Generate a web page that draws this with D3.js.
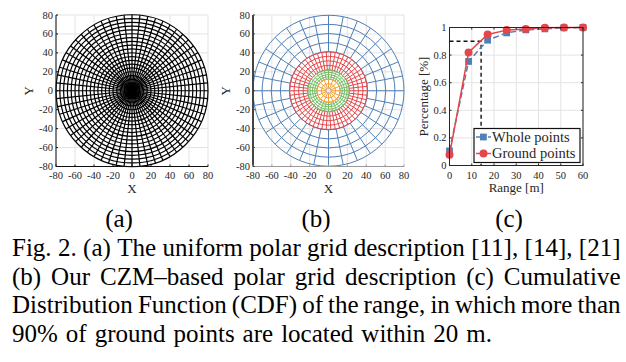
<!DOCTYPE html>
<html>
<head>
<meta charset="utf-8">
<script src="https://cdn.jsdelivr.net/npm/d3@7"></script>
<style>
  body { margin: 0; background: #fff; }
  svg { display: block; }
  text { font-family: "Liberation Serif", "Times New Roman", Tinos, "DejaVu Serif", serif; }
  .tick-label { font-size: 10.5px; fill: #262626; }
  .axis-title { font-size: 13px; fill: #262626; }
  .caption { font-size: 25px; fill: #000; }
</style>
</head>
<body>
<script>
// ---- data ----
const polarTicks = [-80, -60, -40, -20, 0, 20, 40, 60, 80];
const maxRange = 80;

// (a) uniform polar grid
const uniformRings = 20;
const uniformSectors = 60;

// (b) concentric zone model
const czmZoneBounds = [2.7, 12.3625, 22.025, 41.35, 80];
const czmRings = [2, 4, 4, 4];
const czmSectors = [16, 32, 54, 32];
const czmColors = ['#f7a035', '#74bd66', '#e3474b', '#4f80b6'];

// (c) CDF of the range
const rangeX = [0, 8.57, 17.14, 25.71, 34.29, 42.86, 51.43, 60];
const wholePts = [0.106, 0.754, 0.908, 0.961, 0.983, 0.99, 0.998, 1.0];
const groundPts = [0.077, 0.819, 0.949, 0.981, 0.99, 0.998, 1.0, 1.0];
const cdfXTicks = [0, 10, 20, 30, 40, 50, 60];
const cdfYTicks = [0, 0.2, 0.4, 0.6, 0.8, 1];
const cdfYTickLabels = ['0', '0.2', '0.4', '0.6', '0.8', '1'];
const threshold = { range: 14.2, pct: 0.9 };
const seriesNames = ['Whole points', 'Ground points'];

const subLabels = ['(a)', '(b)', '(c)'];
const captionLines = [
    'Fig. 2. (a) The uniform polar grid description [11], [14], [21]',
    '(b) Our CZM\u2013based polar grid description (c) Cumulative',
    'Distribution Function (CDF) of the range, in which more than',
    '90% of ground points are located within 20 m.'
];

// ---- layout ----
const W = 626, H = 362;
const svg = d3.select('body').append('svg')
    .attr('width', W)
    .attr('height', H);
svg.append('rect').attr('width', W).attr('height', H).attr('fill', '#fff');

const gridColor = '#e3e3e3';

function polarAxes(x0, x1) {
    let x = d3.scaleLinear().domain([-maxRange, maxRange]).range([x0, x1]);
    let y = d3.scaleLinear().domain([-maxRange, maxRange]).range([166.5, 15]);
    let g = svg.append('g');

    // grid
    g.selectAll('.gx').data(polarTicks).enter().append('line')
        .attr('x1', d => x(d)).attr('x2', d => x(d))
        .attr('y1', y(-maxRange)).attr('y2', y(maxRange))
        .attr('stroke', gridColor).attr('stroke-width', 1);
    g.selectAll('.gy').data(polarTicks).enter().append('line')
        .attr('y1', d => y(d)).attr('y2', d => y(d))
        .attr('x1', x(-maxRange)).attr('x2', x(maxRange))
        .attr('stroke', gridColor).attr('stroke-width', 1);

    // tick labels
    g.selectAll('.tx').data(polarTicks).enter().append('text')
        .attr('class', 'tick-label')
        .attr('x', d => x(d)).attr('y', 179)
        .attr('text-anchor', 'middle')
        .text(d => d);
    g.selectAll('.ty').data(polarTicks).enter().append('text')
        .attr('class', 'tick-label')
        .attr('x', x(-maxRange) - 3).attr('y', d => y(d) + 3.5)
        .attr('text-anchor', 'end')
        .text(d => d);

    g.append('text').attr('class', 'axis-title')
        .attr('x', (x0 + x1) / 2).attr('y', 193)
        .attr('text-anchor', 'middle').text('X');
    g.append('text').attr('class', 'axis-title')
        .attr('transform', 'translate(' + (x0 - 23) + ',' + y(0) + ') rotate(-90)')
        .attr('text-anchor', 'middle').text('Y');

    return { x: x, y: y, g: g };
}

function drawPolarGrid(ax, r0, r1, rings, sectors, color, width) {
    let rpx = d3.scaleLinear().domain([0, maxRange]).range([0, ax.x(maxRange) - ax.x(0)]);
    let cx = ax.x(0), cy = ax.y(0);
    let radii = d3.range(rings + 1).map(i => r0 + (r1 - r0) * i / rings);
    let angles = d3.range(sectors).map(k => 2 * Math.PI * k / sectors);

    ax.g.append('g').selectAll('circle').data(radii.filter(r => r > 0)).enter().append('circle')
        .attr('cx', cx).attr('cy', cy)
        .attr('r', d => rpx(d))
        .attr('fill', 'none').attr('stroke', color).attr('stroke-width', width);
    ax.g.append('g').selectAll('line').data(angles).enter().append('line')
        .attr('x1', d => cx + rpx(r0) * Math.cos(d)).attr('y1', d => cy - rpx(r0) * Math.sin(d))
        .attr('x2', d => cx + rpx(r1) * Math.cos(d)).attr('y2', d => cy - rpx(r1) * Math.sin(d))
        .attr('stroke', color).attr('stroke-width', width);
}

function polarFrame(ax, leftColor, bottomColor, leftWidth) {
    let x = ax.x, y = ax.y;
    ax.g.append('line')
        .attr('x1', x(-maxRange)).attr('x2', x(-maxRange))
        .attr('y1', y(-maxRange)).attr('y2', y(maxRange))
        .attr('stroke', leftColor).attr('stroke-width', leftWidth);
    ax.g.append('line')
        .attr('x1', x(-maxRange)).attr('x2', x(maxRange))
        .attr('y1', y(-maxRange)).attr('y2', y(-maxRange))
        .attr('stroke', bottomColor).attr('stroke-width', 1);
    // inward ticks
    ax.g.selectAll('.tk').data(polarTicks).enter().append('line')
        .attr('x1', d => x(d)).attr('x2', d => x(d))
        .attr('y1', y(-maxRange)).attr('y2', y(-maxRange) - 2)
        .attr('stroke', bottomColor);
    ax.g.selectAll('.tk2').data(polarTicks).enter().append('line')
        .attr('y1', d => y(d)).attr('y2', d => y(d))
        .attr('x1', x(-maxRange)).attr('x2', x(-maxRange) + 2)
        .attr('stroke', leftColor);
}

// (a)
let axA = polarAxes(56, 208);
drawPolarGrid(axA, 0, maxRange, uniformRings, uniformSectors, '#000', 1.2);
polarFrame(axA, '#111', '#111', 1);

// (b) outer zones first so inner boundaries sit on top
let axB = polarAxes(253, 404);
for (let z = czmZoneBounds.length - 2; z >= 0; z--) {
    drawPolarGrid(axB, czmZoneBounds[z], czmZoneBounds[z + 1], czmRings[z], czmSectors[z], czmColors[z], 1);
}
axB.g.append('circle')
    .attr('cx', axB.x(0)).attr('cy', axB.y(0))
    .attr('r', axB.x(czmZoneBounds[0]) - axB.x(0))
    .attr('fill', 'none').attr('stroke', '#bbb').attr('stroke-width', 1);
polarFrame(axB, '#444', '#999', 2);

// (c) CDF
let cx = d3.scaleLinear().domain([0, 60]).range([449.5, 583]);
let cy = d3.scaleLinear().domain([0, 1]).range([165.5, 27.5]);
let gc = svg.append('g');

gc.selectAll('.gx').data(cdfXTicks).enter().append('line')
    .attr('x1', d => cx(d)).attr('x2', d => cx(d))
    .attr('y1', cy(0)).attr('y2', cy(1))
    .attr('stroke', gridColor);
gc.selectAll('.gy').data(cdfYTicks).enter().append('line')
    .attr('y1', d => cy(d)).attr('y2', d => cy(d))
    .attr('x1', cx(0)).attr('x2', cx(60))
    .attr('stroke', gridColor);

// 90% threshold guide
gc.append('path')
    .attr('d', d3.line()([[cx(0), cy(threshold.pct)], [cx(threshold.range), cy(threshold.pct)], [cx(threshold.range), cy(0)]]))
    .attr('fill', 'none').attr('stroke', '#111').attr('stroke-width', 1.4)
    .attr('stroke-dasharray', '4,3');

let cdfLine = d3.line()
    .x((d, i) => cx(rangeX[i]))
    .y(d => cy(d));

gc.append('path').datum(wholePts)
    .attr('d', cdfLine)
    .attr('fill', 'none').attr('stroke', '#4f80b6').attr('stroke-width', 1.5)
    .attr('stroke-dasharray', '6,3');
gc.selectAll('.sq').data(wholePts).enter().append('rect')
    .attr('x', (d, i) => cx(rangeX[i]) - 3.4).attr('y', d => cy(d) - 3.4)
    .attr('width', 6.8).attr('height', 6.8)
    .attr('fill', '#4f80b6');

gc.append('path').datum(groundPts)
    .attr('d', cdfLine)
    .attr('fill', 'none').attr('stroke', '#e3474b').attr('stroke-width', 1.5);
gc.selectAll('.ci').data(groundPts).enter().append('circle')
    .attr('cx', (d, i) => cx(rangeX[i])).attr('cy', d => cy(d))
    .attr('r', 4)
    .attr('fill', '#e3474b');

// frame and inward ticks
gc.append('rect')
    .attr('x', cx(0)).attr('y', cy(1))
    .attr('width', cx(60) - cx(0)).attr('height', cy(0) - cy(1))
    .attr('fill', 'none').attr('stroke', '#262626').attr('stroke-width', 1);
cdfXTicks.forEach(function (t) {
    gc.append('line').attr('x1', cx(t)).attr('x2', cx(t)).attr('y1', cy(0)).attr('y2', cy(0) - 2).attr('stroke', '#262626');
    gc.append('line').attr('x1', cx(t)).attr('x2', cx(t)).attr('y1', cy(1)).attr('y2', cy(1) + 2).attr('stroke', '#262626');
});
cdfYTicks.forEach(function (t) {
    gc.append('line').attr('y1', cy(t)).attr('y2', cy(t)).attr('x1', cx(0)).attr('x2', cx(0) + 2).attr('stroke', '#262626');
    gc.append('line').attr('y1', cy(t)).attr('y2', cy(t)).attr('x1', cx(60)).attr('x2', cx(60) - 2).attr('stroke', '#262626');
});

gc.selectAll('.tx').data(cdfXTicks).enter().append('text')
    .attr('class', 'tick-label')
    .attr('x', d => cx(d)).attr('y', 178.5)
    .attr('text-anchor', 'middle').text(d => d);
gc.selectAll('.ty').data(cdfYTicks).enter().append('text')
    .attr('class', 'tick-label')
    .attr('x', cx(0) - 3).attr('y', d => cy(d) + 3.5)
    .attr('text-anchor', 'end').text((d, i) => cdfYTickLabels[i]);

gc.append('text').attr('class', 'axis-title')
    .attr('x', (cx(0) + cx(60)) / 2).attr('y', 192)
    .attr('text-anchor', 'middle').text('Range [m]');
gc.append('text').attr('class', 'axis-title')
    .attr('transform', 'translate(428,' + cy(0.5) + ') rotate(-90)')
    .attr('text-anchor', 'middle').text('Percentage [%]');

// legend
let lg = gc.append('g').attr('transform', 'translate(474,128.5)');
lg.append('rect').attr('width', 106).attr('height', 34)
    .attr('fill', '#fff').attr('stroke', '#111').attr('stroke-width', 1.2);
lg.append('line').attr('x1', 2).attr('x2', 17).attr('y1', 8.5).attr('y2', 8.5)
    .attr('stroke', '#4f80b6').attr('stroke-width', 1.5).attr('stroke-dasharray', '4,2');
lg.append('rect').attr('x', 6).attr('y', 5.1).attr('width', 6.8).attr('height', 6.8).attr('fill', '#4f80b6');
lg.append('line').attr('x1', 2).attr('x2', 17).attr('y1', 25).attr('y2', 25)
    .attr('stroke', '#e3474b').attr('stroke-width', 1.5);
lg.append('circle').attr('cx', 9.5).attr('cy', 25).attr('r', 4).attr('fill', '#e3474b');
lg.selectAll('.lt').data(seriesNames).enter().append('text')
    .attr('class', 'axis-title')
    .style('font-size', '14.5px')
    .attr('x', 18).attr('y', (d, i) => 13 + i * 16.5)
    .text(d => d);

// ---- sub labels and caption ----
const subX = [119, 316, 509];
svg.selectAll('.sub').data(subLabels).enter().append('text')
    .attr('class', 'caption')
    .attr('x', (d, i) => subX[i]).attr('y', 227)
    .attr('text-anchor', 'middle').text(d => d);

const capLeft = 12, capRight = 620.5;
captionLines.forEach(function (line, li) {
    let words = line.split(' ');
    let yy = 256 + li * 28.7;
    let nodes = words.map(w => svg.append('text').attr('class', 'caption').attr('y', yy).text(w));
    let widths = nodes.map(n => n.node().getComputedTextLength());
    let total = d3.sum(widths);
    let gap = li < captionLines.length - 1 ? (capRight - capLeft - total) / (words.length - 1) : 8;
    let xx = capLeft;
    nodes.forEach(function (n, i) {
        n.attr('x', xx);
        xx += widths[i] + gap;
    });
});
</script>
</body>
</html>
